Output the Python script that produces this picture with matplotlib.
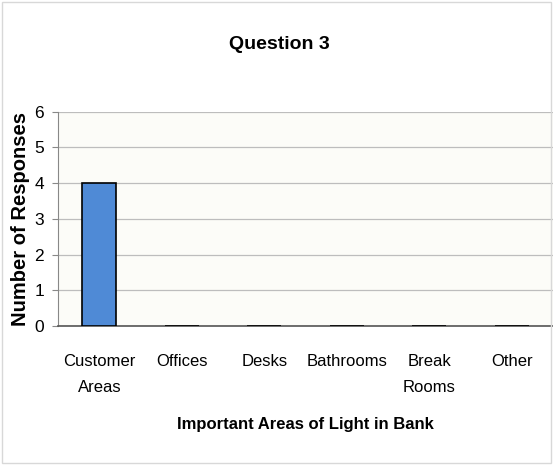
import matplotlib
matplotlib.use("Agg")
import matplotlib.pyplot as plt
from matplotlib.patches import Rectangle

categories = ["Customer\nAreas", "Offices", "Desks", "Bathrooms", "Break\nRooms", "Other"]
responses = [4, 0, 0, 0, 0, 0]
y_ticks = [0, 1, 2, 3, 4, 5, 6]

narrow = ["Liberation Sans Narrow", "Liberation Sans", "DejaVu Sans"]

fig = plt.figure(figsize=(5.53, 4.65), dpi=100)
fig.patch.set_facecolor("white")
fig.patches.append(Rectangle((0.004, 0.004), 0.992, 0.992, transform=fig.transFigure,
                             fill=False, edgecolor="#d8d8d8", linewidth=1))

ax = fig.add_axes([0.105, 0.299, 0.895, 0.461])
ax.set_facecolor("#fcfcf8")

x = range(len(categories))
ax.bar(x, responses, width=0.41, color="#4f8ad6", edgecolor="black", linewidth=1.2, zorder=3)

ax.set_xlim(-0.5, len(categories) - 0.5)
ax.set_ylim(0, 6)
ax.set_yticks(y_ticks)
ax.set_yticklabels([str(t) for t in y_ticks], family=narrow, fontsize=12.5)
ax.set_xticks(list(x))
ax.set_xticklabels(categories, family=narrow, fontsize=12, linespacing=1.9, va="top")
ax.tick_params(axis="x", length=0, pad=20)
ax.tick_params(axis="y", length=4, color="#888888", pad=6)

ax.grid(axis="y", color="#bdbdbd", linewidth=0.9, zorder=0)
for side in ["top", "right"]:
    ax.spines[side].set_visible(False)
ax.spines["left"].set_color("#888888")
ax.spines["bottom"].set_color("#555555")
ax.spines["bottom"].set_linewidth(1.2)

ax.set_ylabel("Number of Responses", fontsize=14.5, fontweight="bold", family="Liberation Sans",
              labelpad=3)
ax.set_xlabel("Important Areas of Light in Bank", fontsize=12, fontweight="bold",
              family=narrow, labelpad=16)
fig.text(0.505, 0.905, "Question 3", ha="center", va="center", fontsize=14,
         fontweight="bold", family=narrow)

fig.savefig("out.png", dpi=100)
